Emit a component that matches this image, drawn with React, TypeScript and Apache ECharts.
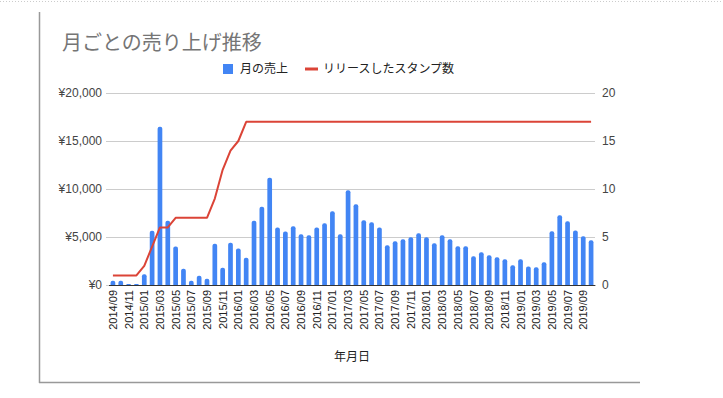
import React, { useEffect, useRef } from "react";
import * as echarts from "echarts";

const months = [
  "2014/09", "2014/10", "2014/11", "2014/12",
  "2015/01", "2015/02", "2015/03", "2015/04", "2015/05", "2015/06", "2015/07", "2015/08", "2015/09", "2015/10", "2015/11", "2015/12",
  "2016/01", "2016/02", "2016/03", "2016/04", "2016/05", "2016/06", "2016/07", "2016/08", "2016/09", "2016/10", "2016/11", "2016/12",
  "2017/01", "2017/02", "2017/03", "2017/04", "2017/05", "2017/06", "2017/07", "2017/08", "2017/09", "2017/10", "2017/11", "2017/12",
  "2018/01", "2018/02", "2018/03", "2018/04", "2018/05", "2018/06", "2018/07", "2018/08", "2018/09", "2018/10", "2018/11", "2018/12",
  "2019/01", "2019/02", "2019/03", "2019/04", "2019/05", "2019/06", "2019/07", "2019/08", "2019/09", "2019/10",
];

const sales = [
  450, 450, 100, 100, 1110, 5660, 16490, 6700, 4000, 1700,
  450, 970, 660, 4300, 1800, 4400, 3790, 2850, 6700, 8160,
  11180, 6000, 5560, 6110, 5280, 5170, 6000, 6420, 7670, 5280,
  9860, 8400, 6740, 6530, 6000, 4130, 4550, 4760, 4970, 5380,
  4970, 4340, 5170, 4760, 4030, 4030, 2990, 3400, 3090, 2880,
  2670, 2050, 2670, 1940, 1840, 2360, 5590, 7260, 6630, 5690,
  5070, 4650,
];

const stamps = [
  1, 1, 1, 1, 2, 4, 6, 6, 7, 7,
  7, 7, 7, 9, 12, 14, 15, 17, 17, 17,
  17, 17, 17, 17, 17, 17, 17, 17, 17, 17,
  17, 17, 17, 17, 17, 17, 17, 17, 17, 17,
  17, 17, 17, 17, 17, 17, 17, 17, 17, 17,
  17, 17, 17, 17, 17, 17, 17, 17, 17, 17,
  17, 17,
];

const titleText = "月ごとの売り上げ推移";
const seriesNames = ["月の売上", "リリースしたスタンプ数"];
const xAxisName = "年月日";

const FONT = "'Liberation Sans', Arial, 'Noto Sans CJK JP', sans-serif";
const BLUE = "#4285F4";
const RED = "#DB4437";

export default function App() {
  const ref = useRef<HTMLDivElement>(null);

  useEffect(() => {
    if (!ref.current) return;
    const chart = echarts.init(ref.current, undefined, { renderer: "svg" });
    chart.setOption({
      animation: false,
      textStyle: { fontFamily: FONT },
      title: {
        text: titleText,
        left: 57,
        top: 28,
        textStyle: { fontSize: 20, fontWeight: "normal", color: "#757575", fontFamily: FONT },
      },
      grid: { left: 109, right: 128, top: 93, bottom: 113, containLabel: false },
      xAxis: {
        type: "category",
        data: months,
        boundaryGap: true,
        axisTick: { show: false },
        axisLine: { lineStyle: { color: "#333", width: 1 } },
        axisLabel: { interval: 1, rotate: 90, fontSize: 11, color: "#222", margin: 5, fontFamily: FONT },
        name: xAxisName,
        nameLocation: "middle",
        nameGap: 66,
        nameTextStyle: { fontSize: 12, color: "#222", fontFamily: FONT },
      },
      yAxis: [
        {
          type: "value",
          min: 0,
          max: 20000,
          interval: 5000,
          axisLine: { show: false },
          axisTick: { show: true, length: 3, lineStyle: { color: "#ccc" } },
          axisLabel: {
            fontSize: 12,
            color: "#444",
            margin: 7,
            fontFamily: FONT,
            formatter: (v: number) => "¥" + v.toLocaleString("en-US"),
          },
          splitLine: { lineStyle: { color: "#ccc", width: 1 } },
        },
        {
          type: "value",
          min: 0,
          max: 20,
          interval: 5,
          position: "right",
          axisLine: { show: false },
          axisTick: { show: false },
          axisLabel: { fontSize: 12, color: "#444", margin: 7, fontFamily: FONT },
          splitLine: { show: false },
        },
      ],
      series: [
        {
          name: seriesNames[0],
          type: "bar",
          data: sales,
          barWidth: "60%",
          yAxisIndex: 0,
          itemStyle: { color: BLUE, borderRadius: [2, 2, 0, 0] },
        },
        {
          name: seriesNames[1],
          type: "line",
          data: stamps,
          yAxisIndex: 1,
          symbol: "none",
          lineStyle: { color: RED, width: 2 },
          itemStyle: { color: RED },
        },
      ],
      graphic: [
        {
          type: "line",
          shape: { x1: 0, y1: 1.5, x2: 723, y2: 1.5 },
          style: { stroke: "#ccc", lineWidth: 1, lineDash: [1, 2] },
        },
        {
          type: "line",
          shape: { x1: 39.5, y1: 12, x2: 39.5, y2: 383 },
          style: { stroke: "#999", lineWidth: 1.5 },
        },
        {
          type: "line",
          shape: { x1: 39, y1: 382.5, x2: 640, y2: 382.5 },
          style: { stroke: "#999", lineWidth: 1.5 },
        },
        {
          type: "rect",
          shape: { x: 223, y: 64, width: 10, height: 10 },
          style: { fill: BLUE },
        },
        {
          type: "text",
          x: 240,
          y: 69,
          style: { text: seriesNames[0], fontSize: 12, fill: "#222", fontFamily: FONT, verticalAlign: "middle", align: "left" },
        },
        {
          type: "rect",
          shape: { x: 305, y: 67.5, width: 13, height: 3 },
          style: { fill: RED },
        },
        {
          type: "text",
          x: 323,
          y: 69,
          style: { text: seriesNames[1], fontSize: 12, fill: "#222", fontFamily: FONT, verticalAlign: "middle", align: "left" },
        },
      ],
    });
    return () => chart.dispose();
  }, []);

  return (
    <div
      ref={ref}
      style={{ position: "fixed", left: 0, top: 0, width: 723, height: 398, background: "#fff" }}
    />
  );
}
